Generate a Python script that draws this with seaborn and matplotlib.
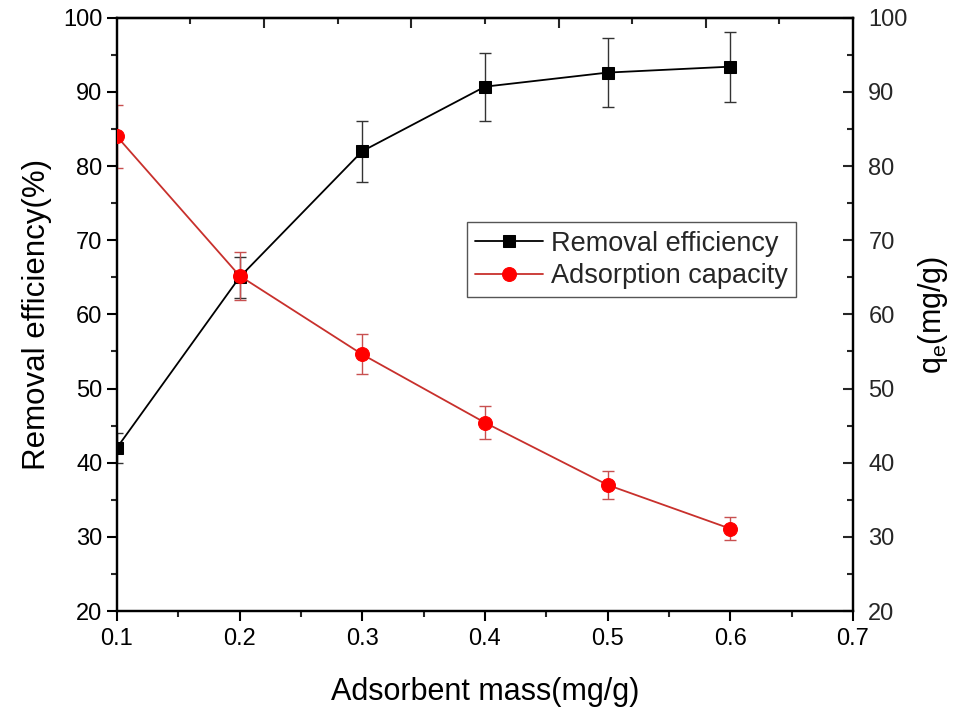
import matplotlib
matplotlib.use("Agg")
import matplotlib.pyplot as plt
from matplotlib.ticker import MultipleLocator, FixedLocator, NullFormatter
import seaborn as sns
import pandas as pd

# ---- data ----
mass = [0.1, 0.2, 0.3, 0.4, 0.5, 0.6]
removal = [42.0, 65.0, 82.0, 90.7, 92.6, 93.4]
removal_err = [2.0, 2.8, 4.1, 4.6, 4.6, 4.7]
capacity = [84.0, 65.2, 54.6, 45.4, 37.0, 31.1]
capacity_err = [4.2, 3.2, 2.7, 2.25, 1.85, 1.55]

xticks = [0.1, 0.2, 0.3, 0.4, 0.5, 0.6, 0.7]
yticks = [20, 30, 40, 50, 60, 70, 80, 90, 100]

df = pd.DataFrame({"mass": mass, "removal": removal, "capacity": capacity})

sns.set_theme(style="white")
plt.rcParams["font.family"] = ["Liberation Sans", "DejaVu Sans"]

fig = plt.figure(figsize=(9.66, 7.08), dpi=100)
ax = fig.add_axes([0.121, 0.137, 0.762, 0.838])
ax2 = ax.twinx()

# error bars
ax.errorbar(mass, removal, yerr=removal_err, fmt="none", ecolor="#333333",
            elinewidth=1.0, capsize=4, capthick=1.0, zorder=2)
ax2.errorbar(mass, capacity, yerr=capacity_err, fmt="none", ecolor="#c85050",
             elinewidth=1.0, capsize=4, capthick=1.0, zorder=2)

sns.lineplot(data=df, x="mass", y="removal", ax=ax, color="black", marker="s",
             markersize=9, markeredgecolor="black", linewidth=1.3,
             label="Removal efficiency", legend=False, zorder=3)
sns.lineplot(data=df, x="mass", y="capacity", ax=ax2, color="#c8302c", marker="o",
             markersize=10, markerfacecolor="#ff0000", markeredgecolor="#ff0000",
             linewidth=1.3, label="Adsorption capacity", legend=False, zorder=3)

for a in (ax, ax2):
    a.set_xlim(0.1, 0.7)
    a.set_ylim(20, 100)
    for s in a.spines.values():
        s.set_linewidth(1.6)
        s.set_color("black")
        s.set_visible(True)

ax.set_xticks(xticks)
ax.set_xticklabels([f"{v:.1f}" for v in xticks])
ax.xaxis.set_minor_locator(MultipleLocator(0.05))
ax.set_yticks(yticks)
ax.set_yticklabels([str(v) for v in yticks])
ax.yaxis.set_minor_locator(MultipleLocator(5))
ax.tick_params(axis="both", which="major", direction="out", length=7, width=1.5,
               labelsize=17, colors="black", bottom=True, left=True)
ax.tick_params(axis="x", which="major", pad=5)
ax.tick_params(axis="both", which="minor", direction="out", length=4, width=1.5,
               bottom=True, left=True)

ax2.set_yticks(yticks)
ax2.set_yticklabels([str(v) for v in yticks])
ax2.yaxis.set_minor_locator(MultipleLocator(5))
ax2.tick_params(axis="y", which="major", direction="in", length=7, width=1.5,
                labelsize=17, right=True, pad=11)
ax2.tick_params(axis="y", which="minor", direction="in", length=4, width=1.5, right=True)

# top axis ticks (inward)
top = ax.secondary_xaxis("top", functions=(lambda v: (v - 0.1) / 0.6, lambda f: 0.1 + f * 0.6))
top.xaxis.set_major_locator(FixedLocator([0.2, 0.4, 0.6, 0.8]))
top.xaxis.set_minor_locator(FixedLocator([0.1, 0.3, 0.5, 0.7, 0.9]))
top.xaxis.set_major_formatter(NullFormatter())
top.tick_params(axis="x", which="major", direction="in", length=7, width=1.5)
top.tick_params(axis="x", which="minor", direction="in", length=4, width=1.5)
top.spines["top"].set_linewidth(1.6)

ax.set_xlabel("Adsorbent mass(mg/g)", fontsize=22, labelpad=20, color="black")
ax.set_ylabel("Removal efficiency(%)", fontsize=22.5, labelpad=8, color="black")
ax2.set_ylabel("q$_\\mathregular{e}$(mg/g)", fontsize=22, labelpad=6, color="black")

h1, l1 = ax.get_legend_handles_labels()
h2, l2 = ax2.get_legend_handles_labels()
leg = ax2.legend(h1 + h2, l1 + l2, loc="upper left", bbox_to_anchor=(0.476, 0.655),
                 fontsize=19.5, frameon=True, fancybox=False, edgecolor="#555555",
                 framealpha=1, borderpad=0.3, handlelength=2.5, handletextpad=0.3,
                 labelspacing=0.25, borderaxespad=0)
leg.get_frame().set_linewidth(1.0)

fig.savefig("out.png", dpi=100, facecolor="white")
